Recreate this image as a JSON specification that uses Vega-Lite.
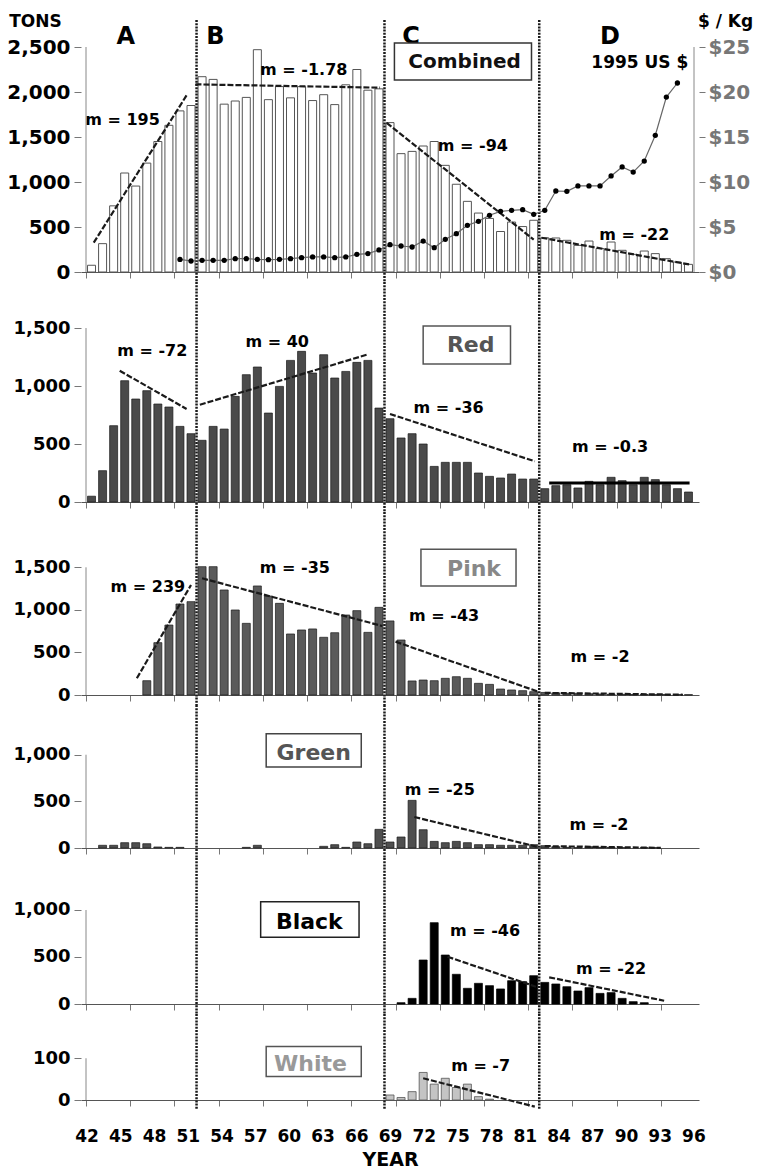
{
  "$schema": "https://vega.github.io/schema/vega-lite/v6.json",
  "padding": {"left": 6, "top": 12, "right": 0, "bottom": 0},
  "autosize": {"type": "pad"},
  "background": "white",
  "spacing": 10,
  "bounds": "flush",
  "config": {
    "view": {"stroke": null},
    "font": "DejaVu Sans",
    "axis": {"grid": false, "labelFont": "DejaVu Sans", "labelFontWeight": "bold", "labelColor": "#000", "titleFont": "DejaVu Sans", "titleFontWeight": "bold", "titleColor": "#000", "tickColor": "#777", "domainColor": "#555"},
    "text": {"font": "DejaVu Sans", "fontWeight": "bold"}
  },
  "datasets": {
    "tons": [
      {"year":42,"Combined":75,"Red":50},
      {"year":43,"Combined":315,"Red":270,"Green":29},
      {"year":44,"Combined":735,"Red":658,"Green":29},
      {"year":45,"Combined":1100,"Red":1046,"Green":57},
      {"year":46,"Combined":955,"Red":888,"Green":57},
      {"year":47,"Combined":1210,"Red":960,"Pink":168,"Green":46},
      {"year":48,"Combined":1450,"Red":845,"Pink":615,"Green":11},
      {"year":49,"Combined":1630,"Red":819,"Pink":822,"Green":7},
      {"year":50,"Combined":1790,"Red":652,"Pink":1069,"Green":7},
      {"year":51,"Combined":1850,"Red":589,"Pink":1097},
      {"year":52,"Combined":2170,"Red":532,"Pink":1508},
      {"year":53,"Combined":2140,"Red":652,"Pink":1508},
      {"year":54,"Combined":1865,"Red":629,"Pink":1234},
      {"year":55,"Combined":1900,"Red":911,"Pink":999},
      {"year":56,"Combined":1940,"Red":1098,"Pink":842,"Green":7},
      {"year":57,"Combined":2470,"Red":1164,"Pink":1281,"Green":29},
      {"year":58,"Combined":1915,"Red":767,"Pink":1163},
      {"year":59,"Combined":2060,"Red":997,"Pink":1077},
      {"year":60,"Combined":1935,"Red":1221,"Pink":717},
      {"year":61,"Combined":2060,"Red":1299,"Pink":764},
      {"year":62,"Combined":1905,"Red":1112,"Pink":776},
      {"year":63,"Combined":1970,"Red":1270,"Pink":678,"Green":18},
      {"year":64,"Combined":1860,"Red":1069,"Pink":732,"Green":36},
      {"year":65,"Combined":2080,"Red":1126,"Pink":940,"Green":7},
      {"year":66,"Combined":2250,"Red":1204,"Pink":991,"Green":64},
      {"year":67,"Combined":2020,"Red":1221,"Pink":736,"Green":46},
      {"year":68,"Combined":2035,"Red":810,"Pink":1030,"Green":200},
      {"year":69,"Combined":1660,"Red":718,"Pink":870,"Green":64,"White":12},
      {"year":70,"Combined":1315,"Red":552,"Pink":646,"Green":118,"Black":14,"White":6},
      {"year":71,"Combined":1340,"Red":589,"Pink":165,"Green":511,"Black":60,"White":20},
      {"year":72,"Combined":1400,"Red":500,"Pink":176,"Green":196,"Black":468,"White":66},
      {"year":73,"Combined":1450,"Red":307,"Pink":168,"Green":71,"Black":865,"White":38},
      {"year":74,"Combined":1185,"Red":342,"Pink":196,"Green":57,"Black":521,"White":52},
      {"year":75,"Combined":975,"Red":342,"Pink":215,"Green":71,"Black":316,"White":30},
      {"year":76,"Combined":785,"Red":342,"Pink":196,"Green":57,"Black":167,"White":38},
      {"year":77,"Combined":655,"Red":250,"Pink":137,"Green":36,"Black":220,"White":8},
      {"year":78,"Combined":595,"Red":221,"Pink":125,"Green":36,"Black":195,"White":2},
      {"year":79,"Combined":450,"Red":207,"Pink":70,"Green":29,"Black":160},
      {"year":80,"Combined":555,"Red":241,"Pink":59,"Green":29,"Black":248},
      {"year":81,"Combined":505,"Red":198,"Pink":51,"Green":29,"Black":238},
      {"year":82,"Combined":575,"Red":198,"Pink":39,"Green":36,"Black":301},
      {"year":83,"Combined":380,"Red":115,"Pink":30,"Green":25,"Black":230},
      {"year":84,"Combined":378,"Red":141,"Pink":25,"Green":14,"Black":213},
      {"year":85,"Combined":352,"Red":149,"Pink":20,"Green":7,"Black":184},
      {"year":86,"Combined":296,"Red":121,"Pink":20,"Green":4,"Black":138},
      {"year":87,"Combined":344,"Red":178,"Pink":15,"Green":14,"Black":174},
      {"year":88,"Combined":260,"Red":149,"Pink":12,"Green":7,"Black":113},
      {"year":89,"Combined":333,"Red":213,"Pink":8,"Green":7,"Black":121},
      {"year":90,"Combined":241,"Red":184,"Pink":8,"Green":4,"Black":60},
      {"year":91,"Combined":196,"Red":149,"Pink":6,"Black":25},
      {"year":92,"Combined":233,"Red":213,"Pink":6,"Green":4,"Black":14},
      {"year":93,"Combined":204,"Red":193,"Pink":5,"Green":4},
      {"year":94,"Combined":148,"Red":149,"Pink":5},
      {"year":95,"Combined":111,"Red":115,"Pink":5},
      {"year":96,"Combined":85,"Red":86,"Pink":4}
    ],
    "price": [
      {"year":50,"price":1.4},{"year":51,"price":1.22},{"year":52,"price":1.3},{"year":53,"price":1.3},
      {"year":54,"price":1.3},{"year":55,"price":1.48},{"year":56,"price":1.48},{"year":57,"price":1.41},
      {"year":58,"price":1.37},{"year":59,"price":1.41},{"year":60,"price":1.48},{"year":61,"price":1.59},
      {"year":62,"price":1.67},{"year":63,"price":1.67},{"year":64,"price":1.59},{"year":65,"price":1.67},
      {"year":66,"price":1.96},{"year":67,"price":2.04},{"year":68,"price":2.45},{"year":69,"price":3.04},
      {"year":70,"price":2.89},{"year":71,"price":2.78},{"year":72,"price":3.44},{"year":73,"price":2.7},
      {"year":74,"price":3.63},{"year":75,"price":4.26},{"year":76,"price":5.19},{"year":77,"price":5.63},
      {"year":78,"price":6.3},{"year":79,"price":6.74},{"year":80,"price":6.85},{"year":81,"price":6.93},
      {"year":82,"price":6.41},{"year":83,"price":6.85},{"year":84,"price":9.0},{"year":85,"price":8.96},
      {"year":86,"price":9.56},{"year":87,"price":9.56},{"year":88,"price":9.56},{"year":89,"price":10.67},
      {"year":90,"price":11.67},{"year":91,"price":11.1},{"year":92,"price":12.33},{"year":93,"price":15.19},
      {"year":94,"price":19.44},{"year":95,"price":21.0}
    ],
    "trends": [
      {"panel":"Combined","x1":42.2,"y1":326,"x2":50.6,"y2":1963},
      {"panel":"Combined","x1":51.4,"y1":2085,"x2":68.1,"y2":2048},
      {"panel":"Combined","x1":68.7,"y1":1656,"x2":82.0,"y2":359},
      {"panel":"Combined","x1":82.7,"y1":381,"x2":96.2,"y2":81},
      {"panel":"Red","x1":44.55,"y1":1132,"x2":50.6,"y2":802},
      {"panel":"Red","x1":51.8,"y1":839,"x2":66.9,"y2":1270},
      {"panel":"Red","x1":69.0,"y1":759,"x2":82.1,"y2":351},
      {"panel":"Pink","x1":46.1,"y1":196,"x2":51.0,"y2":1293},
      {"panel":"Pink","x1":52.0,"y1":1371,"x2":68.3,"y2":811},
      {"panel":"Pink","x1":69.5,"y1":627,"x2":82.4,"y2":39},
      {"panel":"Pink","x1":83,"y1":25,"x2":95.5,"y2":3},
      {"panel":"Green","x1":71.2,"y1":332,"x2":82.4,"y2":11},
      {"panel":"Green","x1":83,"y1":20,"x2":93.5,"y2":2},
      {"panel":"Black","x1":74.2,"y1":503,"x2":82.2,"y2":184},
      {"panel":"Black","x1":83.4,"y1":284,"x2":93.8,"y2":35},
      {"panel":"White","x1":72.0,"y1":52,"x2":82.1,"y2":-16}
    ],
    "flat": [{"panel":"Red","x1":83.4,"x2":96.1,"y1":164}],
    "slopes": [
      {"panel":"Combined","x":44.8,"y":1689,"label":"m = 195"},
      {"panel":"Combined","x":61.2,"y":2244,"label":"m = -1.78"},
      {"panel":"Combined","x":76.5,"y":1400,"label":"m = -94"},
      {"panel":"Combined","x":91.1,"y":411,"label":"m = -22"},
      {"panel":"Red","x":47.5,"y":1302,"label":"m = -72"},
      {"panel":"Red","x":58.8,"y":1382,"label":"m = 40"},
      {"panel":"Red","x":74.3,"y":808,"label":"m = -36"},
      {"panel":"Red","x":88.9,"y":477,"label":"m = -0.3"},
      {"panel":"Pink","x":47.1,"y":1273,"label":"m = 239"},
      {"panel":"Pink","x":60.4,"y":1496,"label":"m = -35"},
      {"panel":"Pink","x":73.9,"y":932,"label":"m = -43"},
      {"panel":"Pink","x":88.0,"y":450,"label":"m = -2"},
      {"panel":"Green","x":73.5,"y":618,"label":"m = -25"},
      {"panel":"Green","x":87.9,"y":251,"label":"m = -2"},
      {"panel":"Black","x":77.6,"y":780,"label":"m = -46"},
      {"panel":"Black","x":89.0,"y":369,"label":"m = -22"},
      {"panel":"White","x":77.2,"y":81.5,"label":"m = -7"}
    ],
    "boxes": [
      {"name":"Combined","x1":69.4,"x2":81.8,"y1":2133,"y2":2544,"tx":75.75,"ty":2333},
      {"name":"Red","x1":72.0,"x2":79.9,"y1":1190,"y2":1517,"tx":76.3,"ty":1353},
      {"name":"Pink","x1":71.8,"x2":80.4,"y1":1281,"y2":1712,"tx":76.6,"ty":1475},
      {"name":"Green","x1":57.8,"x2":66.4,"y1":868,"y2":1226,"tx":62.1,"ty":1015},
      {"name":"Black","x1":57.3,"x2":66.2,"y1":710,"y2":1088,"tx":61.7,"ty":872},
      {"name":"White","x1":57.8,"x2":66.4,"y1":56,"y2":128,"tx":61.8,"ty":86}
    ],
    "bounds": [{"b":51.5},{"b":68.5},{"b":82.5}],
    "letters": [{"letter":"A","x":45.1},{"letter":"B","x":53.2},{"letter":"C","x":70.9},{"letter":"D","x":88.9}]
  },
  "vconcat": [
    {
      "width": 618, "height": 252,
      "resolve": {"scale": {"y": "independent"}},
      "layer": [
        {"layer": [
          {"data": {"name": "tons"},
           "mark": {"type": "bar", "width": 8, "fill": "white", "stroke": "#555", "strokeWidth": 1},
           "encoding": {
             "x": {"field": "year", "type": "quantitative", "scale": {"domain": [41.5, 96.5], "nice": false, "zero": false},
                   "axis": {"values": [41.5,42.5,43.5,44.5,45.5,46.5,47.5,48.5,49.5,50.5,51.5,52.5,53.5,54.5,55.5,56.5,57.5,58.5,59.5,60.5,61.5,62.5,63.5,64.5,65.5,66.5,67.5,68.5,69.5,70.5,71.5,72.5,73.5,74.5,75.5,76.5,77.5,78.5,79.5,80.5,81.5,82.5,83.5,84.5,85.5,86.5,87.5,88.5,89.5,90.5,91.5,92.5,93.5,94.5,95.5,96.5], "labels": false, "title": null, "tickSize": 6}},
             "y": {"field": "Combined", "type": "quantitative", "scale": {"domain": [0, 2800], "nice": false},
                   "axis": {"values": [0,500,1000,1500,2000,2500], "format": ",d", "domain": false, "labelFontSize": 20, "tickSize": 7, "labelPadding": 4,
                            "title": "TONS", "titleAngle": 0, "titleX": -46, "titleY": 1, "titleAlign": "center", "titleBaseline": "middle", "titleFontSize": 17}}
           }},
          {"data": {"name": "trends"}, "transform": [{"filter": "datum.panel === 'Combined'"}],
           "mark": {"type": "rule", "color": "#1a1a1a", "strokeWidth": 2.2, "strokeDash": [6, 2]},
           "encoding": {"x": {"field": "x1", "type": "quantitative"}, "x2": {"field": "x2"}, "y": {"field": "y1", "type": "quantitative"}, "y2": {"field": "y2"}}},
          {"data": {"name": "bounds"},
           "mark": {"type": "rule", "color": "#1a1a1a", "strokeWidth": 2.5, "strokeDash": [2, 1.2]},
           "encoding": {"x": {"field": "b", "type": "quantitative"}, "y": {"datum": 2800}, "y2": {"datum": -111}}},
          {"data": {"name": "slopes"}, "transform": [{"filter": "datum.panel === 'Combined'"}],
           "mark": {"type": "text", "fontSize": 16, "align": "center", "baseline": "middle", "color": "#000"},
           "encoding": {"x": {"field": "x", "type": "quantitative"}, "y": {"field": "y", "type": "quantitative"}, "text": {"field": "label"}}},
          {"data": {"name": "letters"},
           "mark": {"type": "text", "fontSize": 24, "align": "center", "baseline": "middle", "color": "#000"},
           "encoding": {"x": {"field": "x", "type": "quantitative"}, "y": {"datum": 2606}, "text": {"field": "letter"}}},
          {"data": {"values": [{}]},
           "mark": {"type": "text", "fontSize": 17, "align": "center", "baseline": "middle", "color": "#000", "text": "1995 US $"},
           "encoding": {"x": {"datum": 91.6}, "y": {"datum": 2322}}},
          {"data": {"name": "boxes"}, "transform": [{"filter": "datum.name === 'Combined'"}],
           "mark": {"type": "rect", "fill": "white", "stroke": "#333", "strokeWidth": 1.5},
           "encoding": {"x": {"field": "x1", "type": "quantitative"}, "x2": {"field": "x2"}, "y": {"field": "y1", "type": "quantitative"}, "y2": {"field": "y2"}}},
          {"data": {"name": "boxes"}, "transform": [{"filter": "datum.name === 'Combined'"}],
           "mark": {"type": "text", "fontSize": 20, "align": "center", "baseline": "middle", "color": "#111"},
           "encoding": {"x": {"field": "tx", "type": "quantitative"}, "y": {"field": "ty", "type": "quantitative"}, "text": {"field": "name"}}},
          {"data": {"values": [{}]},
           "mark": {"type": "rule", "color": "#888", "strokeWidth": 1},
           "encoding": {"x": {"datum": 41.5}, "y": {"datum": 0}, "y2": {"datum": 2500}}}
        ]},
        {"layer": [
          {"data": {"name": "price"},
           "mark": {"type": "line", "color": "#666", "strokeWidth": 1.2},
           "encoding": {
             "x": {"field": "year", "type": "quantitative"},
             "y": {"field": "price", "type": "quantitative", "scale": {"domain": [0, 28], "nice": false},
                   "axis": {"orient": "right", "values": [0,5,10,15,20,25], "labelExpr": "'$' + datum.value", "labelColor": "#777", "labelFontSize": 20, "domain": false, "tickSize": 6, "labelPadding": 3,
                            "title": "$ / Kg", "titleAngle": 0, "titleX": 26, "titleY": 1, "titleAlign": "center", "titleBaseline": "middle", "titleFontSize": 17}}
           }},
          {"data": {"name": "price"},
           "mark": {"type": "point", "filled": true, "color": "#000", "size": 28, "opacity": 1},
           "encoding": {"x": {"field": "year", "type": "quantitative"}, "y": {"field": "price", "type": "quantitative"}}},
          {"data": {"values": [{}]},
           "mark": {"type": "rule", "color": "#888", "strokeWidth": 1},
           "encoding": {"x": {"datum": 96.5}, "y": {"datum": 0}, "y2": {"datum": 25}}}
        ]}
      ]
    },
    {
      "width": 618, "height": 220,
      "layer": [
        {"data": {"name": "tons"},
         "mark": {"type": "bar", "width": 8, "fill": "#4a4a4a", "stroke": "#1a1a1a", "strokeWidth": 0.7},
         "encoding": {
           "x": {"field": "year", "type": "quantitative", "scale": {"domain": [41.5, 96.5], "nice": false, "zero": false},
                 "axis": {"values": [41.5,42.5,43.5,44.5,45.5,46.5,47.5,48.5,49.5,50.5,51.5,52.5,53.5,54.5,55.5,56.5,57.5,58.5,59.5,60.5,61.5,62.5,63.5,64.5,65.5,66.5,67.5,68.5,69.5,70.5,71.5,72.5,73.5,74.5,75.5,76.5,77.5,78.5,79.5,80.5,81.5,82.5,83.5,84.5,85.5,86.5,87.5,88.5,89.5,90.5,91.5,92.5,93.5,94.5,95.5,96.5], "labels": false, "title": null, "tickSize": 6}},
           "y": {"field": "Red", "type": "quantitative", "scale": {"domain": [0, 1897], "nice": false},
                 "axis": {"values": [0,500,1000,1500], "format": ",d", "domain": false, "labelFontSize": 18, "tickSize": 7, "labelPadding": 4, "title": null}}
         }},
        {"data": {"name": "trends"}, "transform": [{"filter": "datum.panel === 'Red'"}],
         "mark": {"type": "rule", "color": "#1a1a1a", "strokeWidth": 2.2, "strokeDash": [6, 2]},
         "encoding": {"x": {"field": "x1", "type": "quantitative"}, "x2": {"field": "x2"}, "y": {"field": "y1", "type": "quantitative"}, "y2": {"field": "y2"}}},
        {"data": {"name": "flat"},
         "mark": {"type": "rule", "color": "#000", "strokeWidth": 3},
         "encoding": {"x": {"field": "x1", "type": "quantitative"}, "x2": {"field": "x2"}, "y": {"field": "y1", "type": "quantitative"}}},
        {"data": {"name": "bounds"},
         "mark": {"type": "rule", "color": "#1a1a1a", "strokeWidth": 2.5, "strokeDash": [2, 1.2]},
         "encoding": {"x": {"field": "b", "type": "quantitative"}, "y": {"datum": 1897}, "y2": {"datum": -86}}},
        {"data": {"name": "slopes"}, "transform": [{"filter": "datum.panel === 'Red'"}],
         "mark": {"type": "text", "fontSize": 16, "align": "center", "baseline": "middle", "color": "#000"},
         "encoding": {"x": {"field": "x", "type": "quantitative"}, "y": {"field": "y", "type": "quantitative"}, "text": {"field": "label"}}},
        {"data": {"name": "boxes"}, "transform": [{"filter": "datum.name === 'Red'"}],
         "mark": {"type": "rect", "fill": "white", "stroke": "#555", "strokeWidth": 1.5},
         "encoding": {"x": {"field": "x1", "type": "quantitative"}, "x2": {"field": "x2"}, "y": {"field": "y1", "type": "quantitative"}, "y2": {"field": "y2"}}},
        {"data": {"name": "boxes"}, "transform": [{"filter": "datum.name === 'Red'"}],
         "mark": {"type": "text", "fontSize": 22, "align": "center", "baseline": "middle", "color": "#555"},
         "encoding": {"x": {"field": "tx", "type": "quantitative"}, "y": {"field": "ty", "type": "quantitative"}, "text": {"field": "name"}}},
        {"data": {"values": [{}]},
         "mark": {"type": "rule", "color": "#888", "strokeWidth": 1},
         "encoding": {"x": {"datum": 41.5}, "y": {"datum": 0}, "y2": {"datum": 1500}}}
      ]
    },
    {
      "width": 618, "height": 183,
      "layer": [
        {"data": {"name": "tons"},
         "mark": {"type": "bar", "width": 8, "fill": "#5a5a5a", "stroke": "#1a1a1a", "strokeWidth": 0.7},
         "encoding": {
           "x": {"field": "year", "type": "quantitative", "scale": {"domain": [41.5, 96.5], "nice": false, "zero": false},
                 "axis": {"values": [41.5,42.5,43.5,44.5,45.5,46.5,47.5,48.5,49.5,50.5,51.5,52.5,53.5,54.5,55.5,56.5,57.5,58.5,59.5,60.5,61.5,62.5,63.5,64.5,65.5,66.5,67.5,68.5,69.5,70.5,71.5,72.5,73.5,74.5,75.5,76.5,77.5,78.5,79.5,80.5,81.5,82.5,83.5,84.5,85.5,86.5,87.5,88.5,89.5,90.5,91.5,92.5,93.5,94.5,95.5,96.5], "labels": false, "title": null, "tickSize": 6}},
           "y": {"field": "Pink", "type": "quantitative", "scale": {"domain": [0, 2150], "nice": false},
                 "axis": {"values": [0,500,1000,1500], "format": ",d", "domain": false, "labelFontSize": 18, "tickSize": 7, "labelPadding": 4, "title": null}}
         }},
        {"data": {"name": "trends"}, "transform": [{"filter": "datum.panel === 'Pink'"}],
         "mark": {"type": "rule", "color": "#1a1a1a", "strokeWidth": 2.2, "strokeDash": [6, 2]},
         "encoding": {"x": {"field": "x1", "type": "quantitative"}, "x2": {"field": "x2"}, "y": {"field": "y1", "type": "quantitative"}, "y2": {"field": "y2"}}},
        {"data": {"name": "bounds"},
         "mark": {"type": "rule", "color": "#1a1a1a", "strokeWidth": 2.5, "strokeDash": [2, 1.2]},
         "encoding": {"x": {"field": "b", "type": "quantitative"}, "y": {"datum": 2150}, "y2": {"datum": -117}}},
        {"data": {"name": "slopes"}, "transform": [{"filter": "datum.panel === 'Pink'"}],
         "mark": {"type": "text", "fontSize": 16, "align": "center", "baseline": "middle", "color": "#000"},
         "encoding": {"x": {"field": "x", "type": "quantitative"}, "y": {"field": "y", "type": "quantitative"}, "text": {"field": "label"}}},
        {"data": {"name": "boxes"}, "transform": [{"filter": "datum.name === 'Pink'"}],
         "mark": {"type": "rect", "fill": "white", "stroke": "#555", "strokeWidth": 1.5},
         "encoding": {"x": {"field": "x1", "type": "quantitative"}, "x2": {"field": "x2"}, "y": {"field": "y1", "type": "quantitative"}, "y2": {"field": "y2"}}},
        {"data": {"name": "boxes"}, "transform": [{"filter": "datum.name === 'Pink'"}],
         "mark": {"type": "text", "fontSize": 22, "align": "center", "baseline": "middle", "color": "#888"},
         "encoding": {"x": {"field": "tx", "type": "quantitative"}, "y": {"field": "ty", "type": "quantitative"}, "text": {"field": "name"}}},
        {"data": {"values": [{}]},
         "mark": {"type": "rule", "color": "#888", "strokeWidth": 1},
         "encoding": {"x": {"datum": 41.5}, "y": {"datum": 0}, "y2": {"datum": 1500}}}
      ]
    },
    {
      "width": 618, "height": 143,
      "layer": [
        {"data": {"name": "tons"},
         "mark": {"type": "bar", "width": 8, "fill": "#4f4f4f", "stroke": "#1a1a1a", "strokeWidth": 0.7},
         "encoding": {
           "x": {"field": "year", "type": "quantitative", "scale": {"domain": [41.5, 96.5], "nice": false, "zero": false},
                 "axis": {"values": [41.5,42.5,43.5,44.5,45.5,46.5,47.5,48.5,49.5,50.5,51.5,52.5,53.5,54.5,55.5,56.5,57.5,58.5,59.5,60.5,61.5,62.5,63.5,64.5,65.5,66.5,67.5,68.5,69.5,70.5,71.5,72.5,73.5,74.5,75.5,76.5,77.5,78.5,79.5,80.5,81.5,82.5,83.5,84.5,85.5,86.5,87.5,88.5,89.5,90.5,91.5,92.5,93.5,94.5,95.5,96.5], "labels": false, "title": null, "tickSize": 6}},
           "y": {"field": "Green", "type": "quantitative", "scale": {"domain": [0, 1533], "nice": false},
                 "axis": {"values": [0,500,1000], "format": ",d", "domain": false, "labelFontSize": 18, "tickSize": 7, "labelPadding": 4, "title": null}}
         }},
        {"data": {"name": "trends"}, "transform": [{"filter": "datum.panel === 'Green'"}],
         "mark": {"type": "rule", "color": "#1a1a1a", "strokeWidth": 2.2, "strokeDash": [6, 2]},
         "encoding": {"x": {"field": "x1", "type": "quantitative"}, "x2": {"field": "x2"}, "y": {"field": "y1", "type": "quantitative"}, "y2": {"field": "y2"}}},
        {"data": {"name": "bounds"},
         "mark": {"type": "rule", "color": "#1a1a1a", "strokeWidth": 2.5, "strokeDash": [2, 1.2]},
         "encoding": {"x": {"field": "b", "type": "quantitative"}, "y": {"datum": 1533}, "y2": {"datum": -107}}},
        {"data": {"name": "slopes"}, "transform": [{"filter": "datum.panel === 'Green'"}],
         "mark": {"type": "text", "fontSize": 16, "align": "center", "baseline": "middle", "color": "#000"},
         "encoding": {"x": {"field": "x", "type": "quantitative"}, "y": {"field": "y", "type": "quantitative"}, "text": {"field": "label"}}},
        {"data": {"name": "boxes"}, "transform": [{"filter": "datum.name === 'Green'"}],
         "mark": {"type": "rect", "fill": "white", "stroke": "#444", "strokeWidth": 1.5},
         "encoding": {"x": {"field": "x1", "type": "quantitative"}, "x2": {"field": "x2"}, "y": {"field": "y1", "type": "quantitative"}, "y2": {"field": "y2"}}},
        {"data": {"name": "boxes"}, "transform": [{"filter": "datum.name === 'Green'"}],
         "mark": {"type": "text", "fontSize": 22, "align": "center", "baseline": "middle", "color": "#555"},
         "encoding": {"x": {"field": "tx", "type": "quantitative"}, "y": {"field": "ty", "type": "quantitative"}, "text": {"field": "name"}}},
        {"data": {"values": [{}]},
         "mark": {"type": "rule", "color": "#888", "strokeWidth": 1},
         "encoding": {"x": {"datum": 41.5}, "y": {"datum": 0}, "y2": {"datum": 1000}}}
      ]
    },
    {
      "width": 618, "height": 146,
      "layer": [
        {"data": {"name": "tons"},
         "mark": {"type": "bar", "width": 8, "fill": "#000", "stroke": "#000", "strokeWidth": 0.7},
         "encoding": {
           "x": {"field": "year", "type": "quantitative", "scale": {"domain": [41.5, 96.5], "nice": false, "zero": false},
                 "axis": {"values": [41.5,42.5,43.5,44.5,45.5,46.5,47.5,48.5,49.5,50.5,51.5,52.5,53.5,54.5,55.5,56.5,57.5,58.5,59.5,60.5,61.5,62.5,63.5,64.5,65.5,66.5,67.5,68.5,69.5,70.5,71.5,72.5,73.5,74.5,75.5,76.5,77.5,78.5,79.5,80.5,81.5,82.5,83.5,84.5,85.5,86.5,87.5,88.5,89.5,90.5,91.5,92.5,93.5,94.5,95.5,96.5], "labels": false, "title": null, "tickSize": 6}},
           "y": {"field": "Black", "type": "quantitative", "scale": {"domain": [0, 1553], "nice": false},
                 "axis": {"values": [0,500,1000], "format": ",d", "domain": false, "labelFontSize": 18, "tickSize": 7, "labelPadding": 4, "title": null}}
         }},
        {"data": {"name": "trends"}, "transform": [{"filter": "datum.panel === 'Black'"}],
         "mark": {"type": "rule", "color": "#1a1a1a", "strokeWidth": 2.2, "strokeDash": [6, 2]},
         "encoding": {"x": {"field": "x1", "type": "quantitative"}, "x2": {"field": "x2"}, "y": {"field": "y1", "type": "quantitative"}, "y2": {"field": "y2"}}},
        {"data": {"name": "bounds"},
         "mark": {"type": "rule", "color": "#1a1a1a", "strokeWidth": 2.5, "strokeDash": [2, 1.2]},
         "encoding": {"x": {"field": "b", "type": "quantitative"}, "y": {"datum": 1553}, "y2": {"datum": -106}}},
        {"data": {"name": "slopes"}, "transform": [{"filter": "datum.panel === 'Black'"}],
         "mark": {"type": "text", "fontSize": 16, "align": "center", "baseline": "middle", "color": "#000"},
         "encoding": {"x": {"field": "x", "type": "quantitative"}, "y": {"field": "y", "type": "quantitative"}, "text": {"field": "label"}}},
        {"data": {"name": "boxes"}, "transform": [{"filter": "datum.name === 'Black'"}],
         "mark": {"type": "rect", "fill": "white", "stroke": "#222", "strokeWidth": 1.5},
         "encoding": {"x": {"field": "x1", "type": "quantitative"}, "x2": {"field": "x2"}, "y": {"field": "y1", "type": "quantitative"}, "y2": {"field": "y2"}}},
        {"data": {"name": "boxes"}, "transform": [{"filter": "datum.name === 'Black'"}],
         "mark": {"type": "text", "fontSize": 22, "align": "center", "baseline": "middle", "color": "#000"},
         "encoding": {"x": {"field": "tx", "type": "quantitative"}, "y": {"field": "ty", "type": "quantitative"}, "text": {"field": "name"}}},
        {"data": {"values": [{}]},
         "mark": {"type": "rule", "color": "#888", "strokeWidth": 1},
         "encoding": {"x": {"datum": 41.5}, "y": {"datum": 0}, "y2": {"datum": 1000}}}
      ]
    },
    {
      "width": 618, "height": 86,
      "layer": [
        {"data": {"name": "tons"},
         "mark": {"type": "bar", "width": 8, "fill": "#c4c4c4", "stroke": "#555", "strokeWidth": 0.8},
         "encoding": {
           "x": {"field": "year", "type": "quantitative", "scale": {"domain": [41.5, 96.5], "nice": false, "zero": false},
                 "axis": {"values": [41.5,42.5,43.5,44.5,45.5,46.5,47.5,48.5,49.5,50.5,51.5,52.5,53.5,54.5,55.5,56.5,57.5,58.5,59.5,60.5,61.5,62.5,63.5,64.5,65.5,66.5,67.5,68.5,69.5,70.5,71.5,72.5,73.5,74.5,75.5,76.5,77.5,78.5,79.5,80.5,81.5,82.5,83.5,84.5,85.5,86.5,87.5,88.5,89.5,90.5,91.5,92.5,93.5,94.5,95.5,96.5], "labels": false, "title": null, "tickSize": 6}},
           "y": {"field": "White", "type": "quantitative", "scale": {"domain": [0, 206], "nice": false},
                 "axis": {"values": [0,100], "format": ",d", "domain": false, "labelFontSize": 18, "tickSize": 7, "labelPadding": 4, "title": null}}
         }},
        {"data": {"name": "trends"}, "transform": [{"filter": "datum.panel === 'White'"}],
         "mark": {"type": "rule", "color": "#1a1a1a", "strokeWidth": 2.2, "strokeDash": [6, 2]},
         "encoding": {"x": {"field": "x1", "type": "quantitative"}, "x2": {"field": "x2"}, "y": {"field": "y1", "type": "quantitative"}, "y2": {"field": "y2"}}},
        {"data": {"name": "bounds"},
         "mark": {"type": "rule", "color": "#1a1a1a", "strokeWidth": 2.5, "strokeDash": [2, 1.2]},
         "encoding": {"x": {"field": "b", "type": "quantitative"}, "y": {"datum": 206}, "y2": {"datum": -24}}},
        {"data": {"name": "slopes"}, "transform": [{"filter": "datum.panel === 'White'"}],
         "mark": {"type": "text", "fontSize": 16, "align": "center", "baseline": "middle", "color": "#000"},
         "encoding": {"x": {"field": "x", "type": "quantitative"}, "y": {"field": "y", "type": "quantitative"}, "text": {"field": "label"}}},
        {"data": {"name": "boxes"}, "transform": [{"filter": "datum.name === 'White'"}],
         "mark": {"type": "rect", "fill": "white", "stroke": "#555", "strokeWidth": 1.5},
         "encoding": {"x": {"field": "x1", "type": "quantitative"}, "x2": {"field": "x2"}, "y": {"field": "y1", "type": "quantitative"}, "y2": {"field": "y2"}}},
        {"data": {"name": "boxes"}, "transform": [{"filter": "datum.name === 'White'"}],
         "mark": {"type": "text", "fontSize": 22, "align": "center", "baseline": "middle", "color": "#999"},
         "encoding": {"x": {"field": "tx", "type": "quantitative"}, "y": {"field": "ty", "type": "quantitative"}, "text": {"field": "name"}}},
        {"data": {"values": [{}]},
         "mark": {"type": "rule", "color": "#888", "strokeWidth": 1},
         "encoding": {"x": {"datum": 41.5}, "y": {"datum": 0}, "y2": {"datum": 100}}}
      ]
    },
    {
      "width": 618, "height": 1,
      "data": {"name": "tons"},
      "mark": {"type": "rule", "opacity": 0},
      "encoding": {
        "x": {"field": "year", "type": "quantitative", "scale": {"domain": [41.5, 96.5], "nice": false, "zero": false},
              "axis": {"values": [42,45,48,51,54,57,60,63,66,69,72,75,78,81,84,87,90,93,96], "ticks": false, "domain": false, "labelFontSize": 17, "labelPadding": 17,
                       "labelOverlap": false, "labelFlush": false, "labelBound": false, "title": "YEAR", "titleFontSize": 19, "titlePadding": 6}}
      }
    }
  ]
}
